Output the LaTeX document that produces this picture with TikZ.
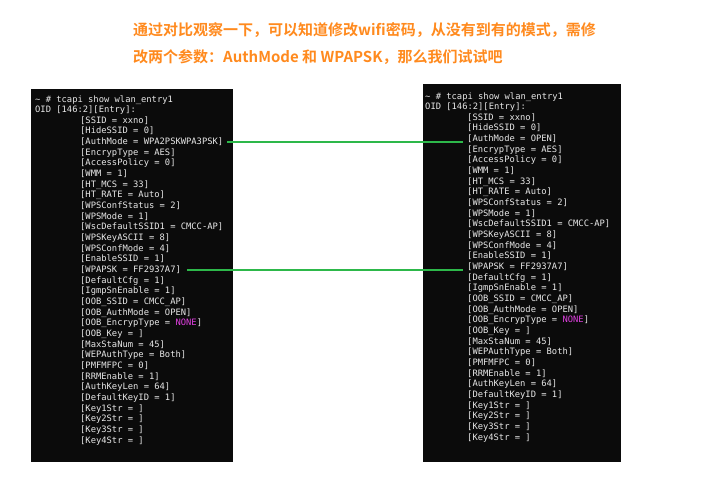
\documentclass[tikz,border=0pt]{standalone}
\usepackage{fontspec}
\setmonofont{DejaVu Sans Mono}
\newfontfamily\cjk{Noto Sans CJK SC Bold}
\definecolor{term}{HTML}{0B0B0B}
\definecolor{termtxt}{HTML}{E8E8E8}
\definecolor{lnk}{HTML}{2DB84A}
\definecolor{ttl}{HTML}{FF8A1E}
\definecolor{mag}{HTML}{E040E0}
\tikzset{tline/.style={anchor=base west,inner sep=0pt,font=\ttfamily\fontsize{8.8}{10}\selectfont,text=termtxt},
 ttext/.style={anchor=base west,inner sep=0pt,font=\cjk\fontsize{15}{15}\selectfont,text=ttl},
 link/.style={draw=lnk,line width=2.2pt}}
\begin{document}
\begin{tikzpicture}[x=1pt,y=-1pt]
\useasboundingbox[fill=white] (0,0) rectangle (704,491);
\node[ttext] (t1) at (133,35) {通过对比观察一下，可以知道修改wifi密码，从没有到有的模式，需修};
\node[ttext] (t2) at (133,62) {改两个参数：AuthMode 和 WPAPSK，那么我们试试吧};
\fill[term] (31,89) rectangle (233,462);
\fill[term] (423,84) rectangle (621,462);
\node[tline] (Lh0) at (35,102) {\textasciitilde\ \# tcapi show wlan\_entry1};
\node[tline] (Lh1) at (35,112.66) {OID [146:2][Entry]:};
\node[tline] (Rh0) at (425,99) {\textasciitilde\ \# tcapi show wlan\_entry1};
\node[tline] (Rh1) at (425,109.66) {OID [146:2][Entry]:};
\foreach \t [count=\i] in {{[SSID = xxno]},{[HideSSID = 0]},{[AuthMode = WPA2PSKWPA3PSK]},{[EncrypType = AES]},{[AccessPolicy = 0]},{[WMM = 1]},{[HT\_MCS = 33]},{[HT\_RATE = Auto]},{[WPSConfStatus = 2]},{[WPSMode = 1]},{[WscDefaultSSID1 = CMCC-AP]},{[WPSKeyASCII = 8]},{[WPSConfMode = 4]},{[EnableSSID = 1]},{[WPAPSK = FF2937A7]},{[DefaultCfg = 1]},{[IgmpSnEnable = 1]},{[OOB\_SSID = CMCC\_AP]},{[OOB\_AuthMode = OPEN]},{[OOB\_EncrypType = \textcolor{mag}{NONE}]},{[OOB\_Key = ]},{[MaxStaNum = 45]},{[WEPAuthType = Both]},{[PMFMFPC = 0]},{[RRMEnable = 1]},{[AuthKeyLen = 64]},{[DefaultKeyID = 1]},{[Key1Str = ]},{[Key2Str = ]},{[Key3Str = ]},{[Key4Str = ]}}
  \node[tline] (L\i) at (80,{102+(\i+1)*10.66}) {\t};
\foreach \t [count=\i] in {{[SSID = xxno]},{[HideSSID = 0]},{[AuthMode = OPEN]},{[EncrypType = AES]},{[AccessPolicy = 0]},{[WMM = 1]},{[HT\_MCS = 33]},{[HT\_RATE = Auto]},{[WPSConfStatus = 2]},{[WPSMode = 1]},{[WscDefaultSSID1 = CMCC-AP]},{[WPSKeyASCII = 8]},{[WPSConfMode = 4]},{[EnableSSID = 1]},{[WPAPSK = FF2937A7]},{[DefaultCfg = 1]},{[IgmpSnEnable = 1]},{[OOB\_SSID = CMCC\_AP]},{[OOB\_AuthMode = OPEN]},{[OOB\_EncrypType = \textcolor{mag}{NONE}]},{[OOB\_Key = ]},{[MaxStaNum = 45]},{[WEPAuthType = Both]},{[PMFMFPC = 0]},{[RRMEnable = 1]},{[AuthKeyLen = 64]},{[DefaultKeyID = 1]},{[Key1Str = ]},{[Key2Str = ]},{[Key3Str = ]},{[Key4Str = ]}}
  \node[tline] (R\i) at (467,{99+(\i+1)*10.66}) {\t};
\draw[link] ([xshift=4pt]L3.east) -- ([xshift=-4pt]L3.east -| R3.west);
\draw[link] ([xshift=6pt]L15.east) -- ([xshift=-4pt]L15.east -| R15.west);
\end{tikzpicture}
\end{document}
